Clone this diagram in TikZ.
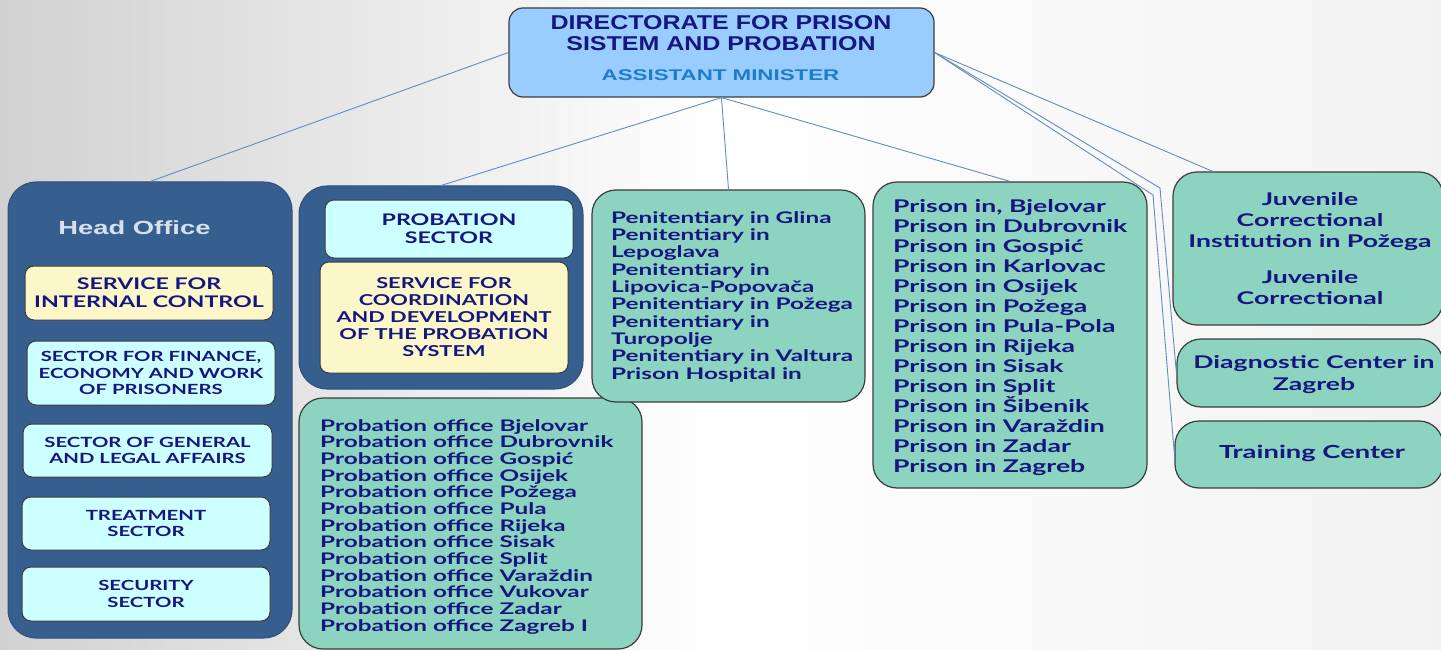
\documentclass[tikz,border=0pt]{standalone}
\usepackage{fontspec}
\newfontfamily\titlefont{Liberation Sans}[FakeStretch=1.25]
\newfontfamily\widefont{Liberation Sans}[FakeStretch=1.44]
\newfontfamily\capsfont{Lato}[FakeStretch=1.45]
\newfontfamily\listfont{Lato}[FakeStretch=1.52]
\usepackage{tikz}
\definecolor{navytext}{RGB}{22,22,128}
\definecolor{tealfill}{RGB}{140,211,192}
\definecolor{cyanfill}{RGB}{204,255,255}
\definecolor{creamfill}{RGB}{251,247,200}
\definecolor{grpblue}{RGB}{54,94,142}
\definecolor{topblue}{RGB}{153,204,255}
\definecolor{ministerblue}{RGB}{30,125,200}
\definecolor{linkblue}{RGB}{100,140,190}
\definecolor{boxline}{RGB}{60,60,60}
\definecolor{headtext}{RGB}{215,225,238}
\tikzset{
 topbox/.style={draw=boxline,line width=1.2pt,fill=topblue,rounded corners=14pt},
 grpbox/.style={fill=grpblue,draw=grpblue!85!black,line width=1pt,rounded corners=28pt},
 capbox/.style={draw=boxline,line width=1pt,rounded corners=9pt,inner sep=0pt,align=center,text=navytext,font=\capsfont\bfseries\fontsize{14}{16.5}\selectfont},
 tealbox/.style={draw=boxline,line width=1.2pt,fill=tealfill,rounded corners=24pt},
 listtext/.style={inner sep=0pt,text=navytext},
 link/.style={draw=linkblue,line width=0.9pt}
}
\begin{document}
\begin{tikzpicture}[x=1pt,y=-1pt]
\useasboundingbox (0,0) rectangle (1441,650);
\clip (0,0) rectangle (1441,650);
\shade[left color=black!18,right color=black!5,middle color=white] (0,0) rectangle (1441,650);

\node (top) [topbox,minimum width=425,minimum height=89] at (721.5,52.5) {};
\node (toptitle) [inner sep=0pt,align=center,text=navytext,font=\titlefont\bfseries\fontsize{20}{20.5}\selectfont] at (721,33) {DIRECTORATE FOR PRISON\\SISTEM AND PROBATION};
\node (minister) [inner sep=0pt,text=ministerblue,font=\widefont\bfseries\fontsize{15.5}{15.5}\selectfont] at (720.5,75) {ASSISTANT MINISTER};

\node (head) [grpbox,minimum width=284,minimum height=456] at (150,410) {};
\node (headtitle) [inner sep=0pt,text=headtext,font=\widefont\bfseries\fontsize{19}{19}\selectfont] at (134.5,228) {Head Office};
\node (intctrl) [capbox,fill=creamfill,minimum width=248,minimum height=54,font=\capsfont\bfseries\fontsize{16}{18}\selectfont] at (149,293) {SERVICE FOR\\INTERNAL CONTROL};
\node (finance) [capbox,fill=cyanfill,minimum width=248,minimum height=64] at (151,373) {SECTOR FOR FINANCE,\\ECONOMY AND WORK\\OF PRISONERS};
\node (legal) [capbox,fill=cyanfill,minimum width=249,minimum height=53] at (147.5,450.5) {SECTOR OF GENERAL\\AND LEGAL AFFAIRS};
\node (treat) [capbox,fill=cyanfill,minimum width=248,minimum height=53] at (146,523.5) {TREATMENT\\SECTOR};
\node (secur) [capbox,fill=cyanfill,minimum width=248,minimum height=54] at (146,594) {SECURITY\\SECTOR};

\node (probgrp) [grpbox,minimum width=284,minimum height=203] at (441,287.5) {};
\node (probsec) [capbox,fill=cyanfill,minimum width=248,minimum height=58,font=\capsfont\bfseries\fontsize{16}{18}\selectfont] at (449,229) {PROBATION\\SECTOR};
\node (coord) [capbox,fill=creamfill,minimum width=248,minimum height=111,font=\capsfont\bfseries\fontsize{15}{17}\selectfont] at (444,317.5) {SERVICE FOR\\COORDINATION\\AND DEVELOPMENT\\OF THE PROBATION\\SYSTEM};

\node (offices) [tealbox,minimum width=343,minimum height=251] at (470.5,523.5) {};
\node (officelist) [listtext,anchor=north west,align=left,font=\listfont\bfseries\fontsize{16}{16.67}\selectfont] at (320,419) {Probation office Bjelovar\\Probation office Dubrovnik\\Probation office Gospić\\Probation office Osijek\\Probation office Požega\\Probation office Pula\\Probation office Rijeka\\Probation office Sisak\\Probation office Split\\Probation office Varaždin\\Probation office Vukovar\\Probation office Zadar\\Probation office Zagreb I};

\node (pen) [tealbox,minimum width=273,minimum height=212] at (728.5,296) {};
\node (penlist) [listtext,anchor=north west,align=left,font=\listfont\bfseries\fontsize{16}{17.33}\selectfont] at (611,211) {Penitentiary in Glina\\Penitentiary in\\Lepoglava\\Penitentiary in\\Lipovica-Popovača\\Penitentiary in Požega\\Penitentiary in\\Turopolje\\Penitentiary in Valtura\\Prison Hospital in};

\node (prison) [tealbox,minimum width=274,minimum height=306] at (1010,335) {};
\node (prisonlist) [listtext,anchor=north west,align=left,font=\listfont\bfseries\fontsize{17.5}{20}\selectfont] at (893,199.5) {Prison in, Bjelovar\\Prison in Dubrovnik\\Prison in Gospić\\Prison in Karlovac\\Prison in Osijek\\Prison in Požega\\Prison in Pula-Pola\\Prison in Rijeka\\Prison in Sisak\\Prison in Split\\Prison in Šibenik\\Prison in Varaždin\\Prison in Zadar\\Prison in Zagreb};

\node (juv) [tealbox,minimum width=270,minimum height=153] at (1308,248.5) {};
\node (juvtext) [listtext,anchor=north,align=center,font=\listfont\bfseries\fontsize{17.5}{21}\selectfont] at (1310,192.5) {Juvenile\\Correctional\\Institution in Požega\\[15pt]Juvenile\\Correctional};
\node (diag) [tealbox,minimum width=266,minimum height=68] at (1310,373) {};
\node (diagtext) [listtext,anchor=north,align=center,font=\listfont\bfseries\fontsize{17.5}{22}\selectfont] at (1314,355.5) {Diagnostic Center in\\Zagreb};
\node (train) [tealbox,minimum width=268,minimum height=67] at (1309,454.5) {};
\node (traintext) [listtext,font=\listfont\bfseries\fontsize{18}{18}\selectfont] at (1312,453) {Training Center};

\coordinate (bendD) at (1160,188);
\coordinate (bendT) at (1153,195);
\draw[link] (top.west)--(head.north);
\draw[link] (top.south)--(probgrp.north);
\draw[link] (top.south)--(pen.north);
\draw[link] (top.south)--(prison.north);
\draw[link] (top.east)--(juv.141);
\draw[link] (top.east)--(bendD)--(diag.west);
\draw[link] (top.east)--(bendT)--(train.west);
\end{tikzpicture}
\end{document}
